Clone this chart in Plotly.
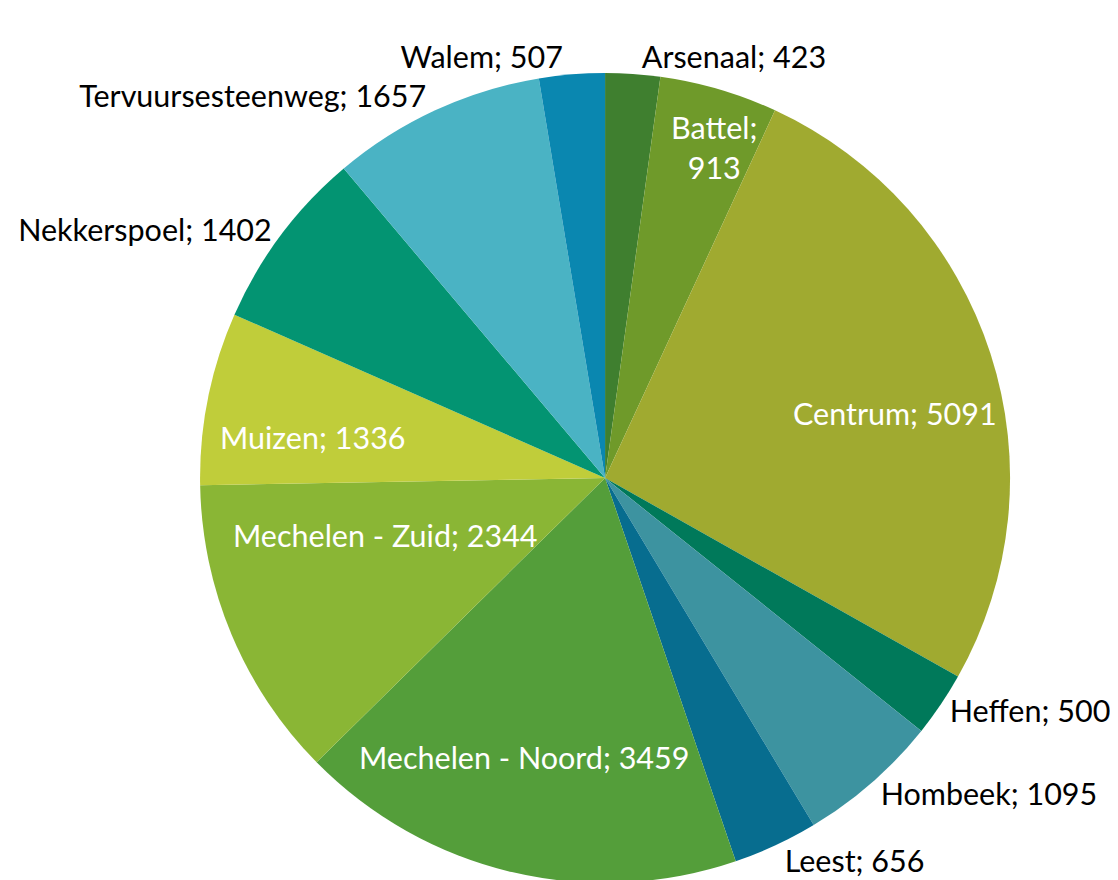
import math
import plotly.graph_objects as go

labels = ["Arsenaal", "Battel", "Centrum", "Heffen", "Hombeek", "Leest",
          "Mechelen - Noord", "Mechelen - Zuid", "Muizen", "Nekkerspoel",
          "Tervuursesteenweg", "Walem"]
values = [423, 913, 5091, 500, 1095, 656, 3459, 2344, 1336, 1402, 1657, 507]
colors = ["#3f7f2f", "#6f9a2a", "#a0aa30", "#00795a", "#3d93a0", "#076d8f",
          "#549e3a", "#8ab635", "#c0cd3a", "#039472", "#4ab3c4", "#0a87b0"]
# "outside" labels drawn by the pie; "inside" labels drawn unscaled as annotations
positions = ["outside", "inside", "inside", "outside", "outside", "outside",
             "inside", "inside", "inside", "outside", "outside", "outside"]
wrap = [False, True, False, False, False, False, False, False, False, False, False, False]

FONT = "Lato"
FS = 30.5
W, H = 1118, 880
dom_x = [0.1718, 0.8963]
dom_y = [0.0057, 0.9262]

texts = [f"{l};<br>{v}" if w else f"{l}; {v}" for l, v, w in zip(labels, values, wrap)]
pie_text = [t if p == "outside" else "" for t, p in zip(texts, positions)]
pie_pos = [p if p == "outside" else "none" for p in positions]

fig = go.Figure(go.Pie(
    labels=labels, values=values, text=pie_text, textinfo="text",
    textposition=pie_pos, sort=False, direction="clockwise", rotation=0,
    marker=dict(colors=colors, line=dict(width=0)),
    outsidetextfont=dict(color="black", size=FS, family=FONT),
    domain=dict(x=dom_x, y=dom_y),
    showlegend=False, hoverinfo="label+value",
))

# inside labels placed along each slice's mid-angle (radial fraction, angle nudge in deg)
total = sum(values)
cx = (dom_x[0] + dom_x[1]) / 2 * W + 8
cy = (1 - (dom_y[0] + dom_y[1]) / 2) * H - 3
R = min((dom_x[1] - dom_x[0]) * W, (dom_y[1] - dom_y[0]) * H) / 2
place = {"Battel": (0.847, 0.7), "Centrum": (0.714, 5.5),
         "Mechelen - Noord": (0.73, 4.2), "Mechelen - Zuid": (0.582, 8.1),
         "Muizen": (0.746, -4.2)}
cum = 0
for l, v, t, p in zip(labels, values, texts, positions):
    mid = (cum + v / 2) / total * 360
    cum += v
    if p != "inside":
        continue
    frac, nudge = place[l]
    a = math.radians(mid + nudge)
    x = cx + frac * R * math.sin(a)
    y = cy - frac * R * math.cos(a)
    fig.add_annotation(x=x / W, y=1 - y / H, xref="paper", yref="paper",
                       xanchor="center", yanchor="middle",
                       text=t, showarrow=False,
                       font=dict(color="white", size=FS, family=FONT))

fig.update_layout(width=W, height=H, margin=dict(l=0, r=0, t=0, b=0),
                  paper_bgcolor="white", font=dict(family=FONT, size=FS))
fig.write_html("out.html")
